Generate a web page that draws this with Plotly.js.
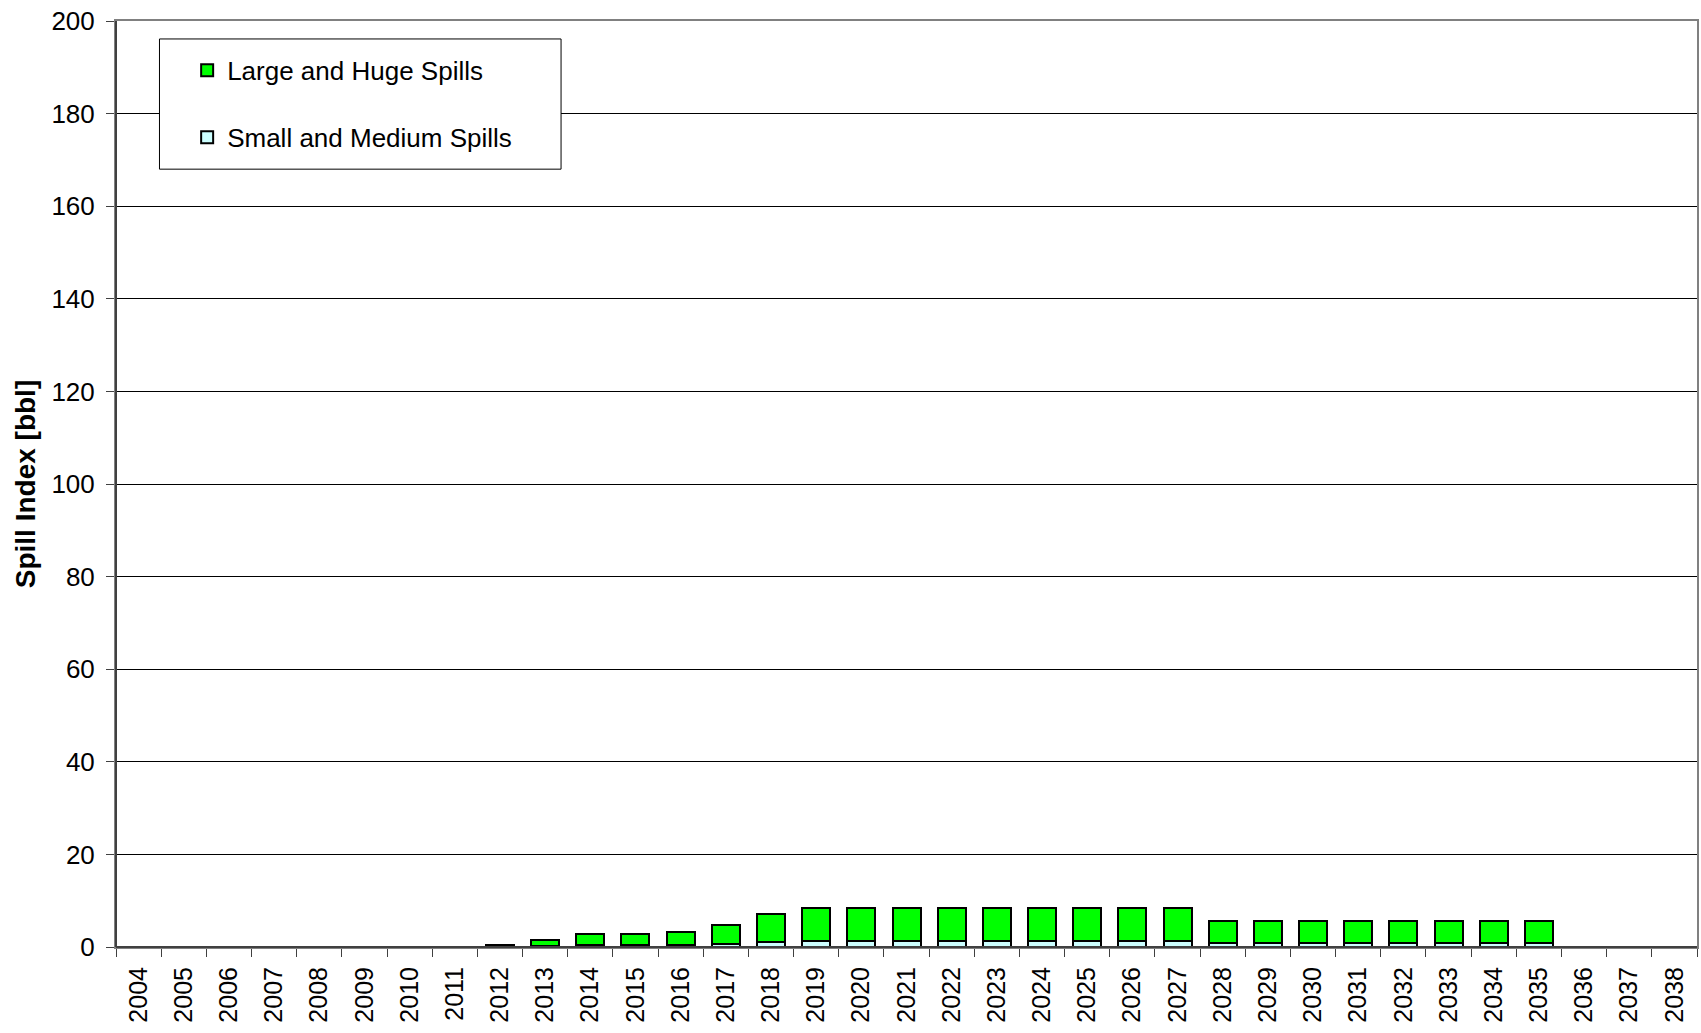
<!DOCTYPE html>
<html>
<head>
<meta charset="utf-8">
<script src="https://cdn.plot.ly/plotly-3.0.1.min.js"></script>
<style>html,body{margin:0;padding:0;background:#fff;}#chart{width:1701px;height:1033px;}</style>
</head>
<body>
<div id="chart"></div>
<script>
const years = ['2004','2005','2006','2007','2008','2009','2010','2011','2012','2013','2014','2015','2016','2017','2018','2019','2020','2021','2022','2023','2024','2025','2026','2027','2028','2029','2030','2031','2032','2033','2034','2035','2036','2037','2038'];
const smallMedium = [0,0,0,0,0,0,0,0,0.1,0.2,0.4,0.4,0.5,0.7,1.0,1.2,1.2,1.2,1.2,1.2,1.2,1.2,1.2,1.2,0.9,0.9,0.9,0.9,0.9,0.9,0.9,0.9,0,0,0];
const largeHuge   = [0,0,0,0,0,0,0,0,0.4,1.4,2.5,2.4,2.7,4.1,6.2,7.3,7.3,7.3,7.3,7.3,7.3,7.3,7.3,7.3,4.8,4.8,4.8,4.8,4.8,4.8,4.8,4.8,0,0,0];
const yTicks = [0,20,40,60,80,100,120,140,160,180,200];

const FONT = 'Liberation Sans, Arial, sans-serif';

const traces = [
  {type:'bar', name:'Small and Medium Spills', x:years, y:smallMedium, legendgroup:'b', legendrank:2,
   marker:{color:'#CCFFFF', line:{color:'#000', width:2}}, hoverinfo:'x+y'},
  {type:'bar', name:'Large and Huge Spills', x:years, y:largeHuge, legendgroup:'a', legendrank:1,
   marker:{color:'#00FF00', line:{color:'#000', width:2}}, hoverinfo:'x+y'}
];

const layout = {
  width:1701, height:1033,
  paper_bgcolor:'#fff', plot_bgcolor:'#fff',
  margin:{l:116, r:4, t:21, b:86, pad:0},
  barmode:'stack', bargap:0.38,
  font:{family:FONT, color:'#000', size:25},
  showlegend:true,
  legend:{x:0.045, y:0.972, xanchor:'left', yanchor:'top', bgcolor:'rgba(0,0,0,0)', borderwidth:0,
          traceorder:'grouped', tracegroupgap:30, font:{family:FONT, size:26, color:'#000'}},
  xaxis:{type:'category', categoryorder:'array', categoryarray:years, tickangle:-90,
         ticks:'outside', tickson:'boundaries', ticklen:8, tickcolor:'#404040', tickwidth:1,
         showline:true, linecolor:'#808080', linewidth:2, mirror:true, showgrid:false,
         tickfont:{family:FONT, size:25, color:'#000'}, ticklabelstandoff:8, automargin:false},
  yaxis:{range:[0,200], tickvals:yTicks, ticktext:yTicks.map(String), ticks:'outside', ticklen:8,
         tickcolor:'#404040', tickwidth:1, showline:true, linecolor:'#808080', linewidth:2, mirror:true,
         showgrid:true, gridcolor:'#000', gridwidth:1, zeroline:false,
         tickfont:{family:FONT, size:26, color:'#000'}, ticklabelstandoff:6, automargin:false,
         title:{text:'Spill Index [bbl]', font:{family:FONT, size:28, color:'#000', weight:'bold'}, standoff:8}},
  shapes:[
    {type:'rect', xref:'paper', yref:'paper', x0:0.0275, x1:0.2815, y0:0.840, y1:0.9806,
     fillcolor:'#fff', line:{color:'#000', width:1}, layer:'above'},
    {type:'line', xref:'paper', yref:'paper', x0:0, x1:0, y0:0, y1:1, line:{color:'#404040', width:2}, layer:'above'},
    {type:'line', xref:'paper', yref:'paper', x0:0, x1:1, y0:0, y1:0, line:{color:'#404040', width:2}, layer:'above'}
  ]
};

Plotly.newPlot('chart', traces, layout, {displayModeBar:false, staticPlot:true});
</script>
</body>
</html>
